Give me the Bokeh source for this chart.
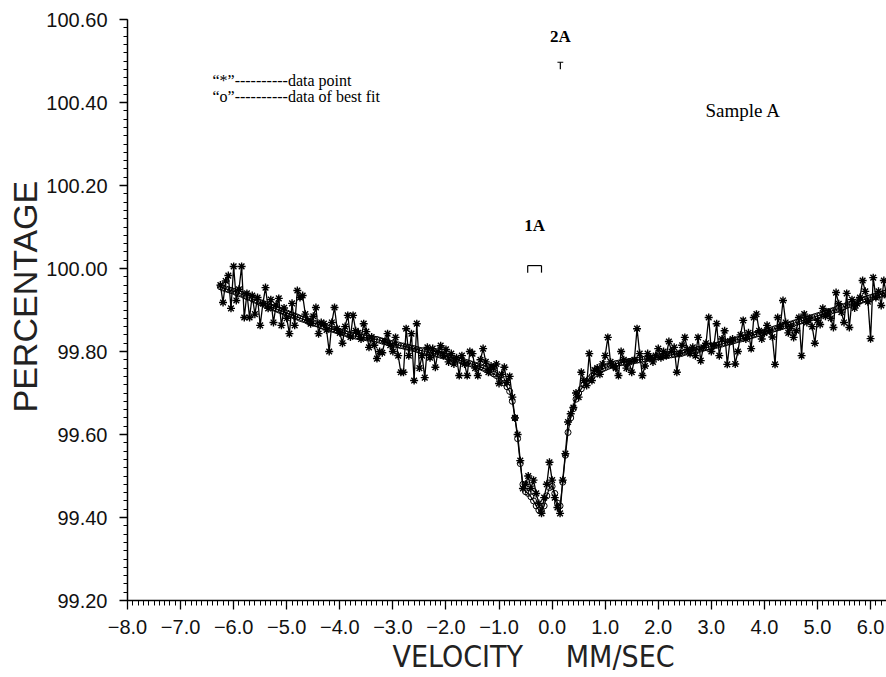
import numpy as np
from bokeh.plotting import figure
from bokeh.models import Range1d, FixedTicker, CustomJSTickFormatter, Label, ColumnDataSource, Title
from bokeh.embed import file_html
from bokeh.resources import INLINE

# ---- data ----
VEL_START = -6.25   # mm/s, first channel
VEL_STEP = 0.05     # mm/s per channel

# measured transmission (%), "*" points
counts = [
    99.960, 99.918, 99.970, 99.983, 99.904, 100.005, 99.923, 99.950, 100.005, 99.882,
    99.940, 99.882, 99.935, 99.890, 99.930, 99.863, 99.915, 99.954, 99.904, 99.925,
    99.870, 99.912, 99.928, 99.863, 99.905, 99.880, 99.843, 99.916, 99.863, 99.947,
    99.930, 99.935, 99.890, 99.875, 99.867, 99.885, 99.906, 99.843, 99.870, 99.867,
    99.852, 99.800, 99.870, 99.906, 99.855, 99.845, 99.820, 99.860, 99.887, 99.835,
    99.887, 99.850, 99.845, 99.830, 99.867, 99.848, 99.810, 99.835, 99.815, 99.783,
    99.800, 99.797, 99.825, 99.843, 99.815, 99.800, 99.834, 99.790, 99.750, 99.750,
    99.855, 99.790, 99.843, 99.730, 99.867, 99.760, 99.790, 99.737, 99.810, 99.785,
    99.807, 99.762, 99.800, 99.814, 99.790, 99.805, 99.775, 99.795, 99.770, 99.785,
    99.742, 99.790, 99.770, 99.742, 99.800, 99.795, 99.760, 99.742, 99.780, 99.807,
    99.775, 99.750, 99.765, 99.760, 99.770, 99.723, 99.745, 99.762, 99.725, 99.740,
    99.690, 99.640, 99.600, 99.537, 99.470, 99.480, 99.500, 99.470, 99.490, 99.458,
    99.434, 99.410, 99.448, 99.480, 99.533, 99.490, 99.448, 99.424, 99.410, 99.490,
    99.554, 99.630, 99.650, 99.665, 99.700, 99.690, 99.750, 99.730, 99.718, 99.795,
    99.730, 99.755, 99.760, 99.745, 99.770, 99.790, 99.834, 99.775, 99.765, 99.760,
    99.742, 99.800, 99.780, 99.760, 99.775, 99.750, 99.780, 99.855, 99.795, 99.742,
    99.765, 99.795, 99.785, 99.775, 99.790, 99.807, 99.785, 99.800, 99.790, 99.824,
    99.800, 99.810, 99.750, 99.795, 99.815, 99.834, 99.805, 99.795, 99.810, 99.790,
    99.834, 99.778, 99.810, 99.820, 99.882, 99.800, 99.815, 99.867, 99.790, 99.830,
    99.850, 99.769, 99.825, 99.830, 99.770, 99.800, 99.840, 99.875, 99.830, 99.845,
    99.807, 99.882, 99.890, 99.850, 99.830, 99.845, 99.863, 99.850, 99.835, 99.769,
    99.882, 99.860, 99.923, 99.870, 99.845, 99.860, 99.834, 99.850, 99.882, 99.790,
    99.890, 99.870, 99.880, 99.860, 99.820, 99.875, 99.865, 99.904, 99.885, 99.895,
    99.880, 99.858, 99.942, 99.915, 99.895, 99.870, 99.940, 99.858, 99.925, 99.905,
    99.915, 99.930, 99.971, 99.945, 99.920, 99.831, 99.978, 99.930, 99.945, 99.911,
    99.971, 99.935,
]

# best fit (%), "o" points
fit = [
    99.956, 99.953, 99.951, 99.949, 99.947, 99.945, 99.942, 99.940, 99.938, 99.935,
    99.932, 99.930, 99.927, 99.924, 99.921, 99.918, 99.916, 99.913, 99.910, 99.907,
    99.905, 99.903, 99.900, 99.898, 99.895, 99.893, 99.890, 99.888, 99.885, 99.883,
    99.880, 99.878, 99.876, 99.873, 99.871, 99.869, 99.867, 99.865, 99.862, 99.860,
    99.858, 99.856, 99.854, 99.852, 99.850, 99.848, 99.846, 99.844, 99.842, 99.840,
    99.838, 99.837, 99.836, 99.835, 99.834, 99.833, 99.832, 99.831, 99.830, 99.829,
    99.827, 99.825, 99.824, 99.822, 99.820, 99.819, 99.817, 99.816, 99.814, 99.813,
    99.811, 99.810, 99.808, 99.807, 99.805, 99.803, 99.802, 99.800, 99.799, 99.797,
    99.796, 99.794, 99.793, 99.791, 99.790, 99.788, 99.786, 99.785, 99.783, 99.781,
    99.779, 99.777, 99.775, 99.773, 99.771, 99.769, 99.767, 99.765, 99.763, 99.760,
    99.757, 99.754, 99.750, 99.746, 99.742, 99.737, 99.731, 99.724, 99.715, 99.704,
    99.680, 99.640, 99.590, 99.530, 99.480, 99.462, 99.458, 99.450, 99.440, 99.428,
    99.418, 99.415, 99.428, 99.452, 99.472, 99.475, 99.458, 99.435, 99.428, 99.485,
    99.550, 99.605, 99.640, 99.662, 99.685, 99.700, 99.710, 99.720, 99.728, 99.734,
    99.740, 99.745, 99.750, 99.754, 99.758, 99.761, 99.764, 99.767, 99.769, 99.771,
    99.772, 99.773, 99.774, 99.775, 99.776, 99.777, 99.778, 99.779, 99.780, 99.781,
    99.782, 99.783, 99.784, 99.785, 99.786, 99.787, 99.788, 99.789, 99.790, 99.791,
    99.792, 99.793, 99.794, 99.795, 99.796, 99.798, 99.799, 99.800, 99.802, 99.803,
    99.805, 99.806, 99.808, 99.809, 99.811, 99.812, 99.814, 99.815, 99.817, 99.818,
    99.820, 99.822, 99.823, 99.825, 99.827, 99.829, 99.830, 99.832, 99.834, 99.836,
    99.838, 99.840, 99.842, 99.843, 99.845, 99.847, 99.849, 99.851, 99.853, 99.855,
    99.857, 99.859, 99.861, 99.862, 99.864, 99.866, 99.868, 99.870, 99.872, 99.874,
    99.876, 99.878, 99.880, 99.882, 99.884, 99.886, 99.888, 99.890, 99.892, 99.895,
    99.897, 99.899, 99.901, 99.904, 99.906, 99.908, 99.911, 99.913, 99.916, 99.918,
    99.920, 99.922, 99.924, 99.926, 99.928, 99.930, 99.932, 99.934, 99.936, 99.938,
    99.940, 99.942,
]

# sub-spectrum (site) markers: doublet line positions (mm/s) and level (%)
site_names = ["1A", "2A"]
site_lines = [[-0.46, -0.20], [0.155]]
site_bar_lo = [-0.46, 0.10]
site_bar_hi = [-0.20, 0.21]
site_level = [100.007, 100.497]
site_label_level = [100.104, 100.560]

x_ticks = [-8.0, -7.0, -6.0, -5.0, -4.0, -3.0, -2.0, -1.0, 0.0, 1.0, 2.0, 3.0, 4.0, 5.0, 6.0]
y_ticks = [99.20, 99.40, 99.60, 99.80, 100.00, 100.20, 100.40, 100.60]

velocity = [round(VEL_START + i * VEL_STEP, 2) for i in range(len(counts))]
src = ColumnDataSource(dict(v=velocity, c=counts, f=fit))

p = figure(width=886, height=677, x_range=Range1d(-8.0, 6.3), y_range=Range1d(99.20, 100.60),
           output_backend="svg", toolbar_location=None,
           min_border_left=127, min_border_right=0, min_border_top=19, min_border_bottom=77)
p.grid.visible = False
p.outline_line_color = None
p.background_fill_color = "white"
p.border_fill_color = "white"

xminor = [round(-8.0 + 0.1 * i, 2) for i in range(144)]
yminor = [round(99.20 + 0.02 * i, 2) for i in range(71)]

xa = p.xaxis[0]
xa.ticker = FixedTicker(ticks=x_ticks, minor_ticks=xminor)
xa.formatter = CustomJSTickFormatter(code="return tick.toFixed(1).replace('-', '\u2212');")
ya = p.yaxis[0]
ya.ticker = FixedTicker(ticks=y_ticks, minor_ticks=yminor)
ya.formatter = CustomJSTickFormatter(code="return tick.toFixed(2);")

for ax, tout, mout, so in ((xa, 9, 5, 10), (ya, 8, 4, 12)):
    ax.axis_line_color = "black"
    ax.axis_line_width = 1.5
    ax.major_tick_in = 0
    ax.major_tick_out = tout
    ax.minor_tick_in = 0
    ax.minor_tick_out = mout
    ax.major_tick_line_width = 1.3
    ax.minor_tick_line_width = 1
    ax.major_tick_line_color = "black"
    ax.minor_tick_line_color = "black"
    ax.major_label_text_font = "Liberation Sans"
    ax.major_label_text_font_size = "20px"
    ax.major_label_text_color = "#111111"
    ax.major_label_standoff = so

# axis titles (placed as titles so that they can sit off-centre like the reference)
p.add_layout(Title(text="VELOCITY\u00a0\u00a0\u00a0\u00a0\u00a0MM/SEC", align="left", offset=265,
                   standoff=0, text_font="DejaVu Sans Condensed", text_font_size="30px",
                   text_font_style="normal", text_color="#222222"), "below")
p.add_layout(Title(text="PERCENTAGE", align="left", offset=188, standoff=0,
                   text_font="Liberation Sans", text_font_size="34px",
                   text_font_style="normal", text_color="#222222"), "left")

# fit and data
p.line("v", "f", source=src, line_color="black", line_width=1.2)
p.scatter("v", "f", source=src, marker="circle", size=6, fill_color=None,
          line_color="black", line_width=1)
p.line("v", "c", source=src, line_color="black", line_width=1.3)
p.scatter("v", "c", source=src, marker="asterisk", size=8, line_color="black", line_width=1.4)

# site markers
for name, lines, lo, hi, lev, lab in zip(site_names, site_lines, site_bar_lo, site_bar_hi,
                                         site_level, site_label_level):
    p.segment(x0=[lo], y0=[lev], x1=[hi], y1=[lev], line_color="black", line_width=1.2)
    p.segment(x0=lines, y0=[lev] * len(lines), x1=lines, y1=[lev - 0.017] * len(lines),
              line_color="black", line_width=1.2)
    p.add_layout(Label(x=(lo + hi) / 2, y=lab, text=name, text_font="Liberation Serif",
                       text_font_style="bold", text_font_size="17px", text_align="center",
                       text_baseline="middle", text_color="black"))

# texts
p.add_layout(Label(x=-6.40, y=100.453, text="\u201c*\u201d----------data point",
                   text_font="Liberation Serif", text_font_size="16px",
                   text_baseline="middle", text_color="black"))
p.add_layout(Label(x=-6.40, y=100.414, text="\u201co\u201d----------data of best fit",
                   text_font="Liberation Serif", text_font_size="16px",
                   text_baseline="middle", text_color="black"))
p.add_layout(Label(x=2.89, y=100.381, text="Sample A", text_font="Liberation Serif",
                   text_font_size="19px", text_baseline="middle", text_color="black"))

open("out.html", "w").write(file_html(p, INLINE))
